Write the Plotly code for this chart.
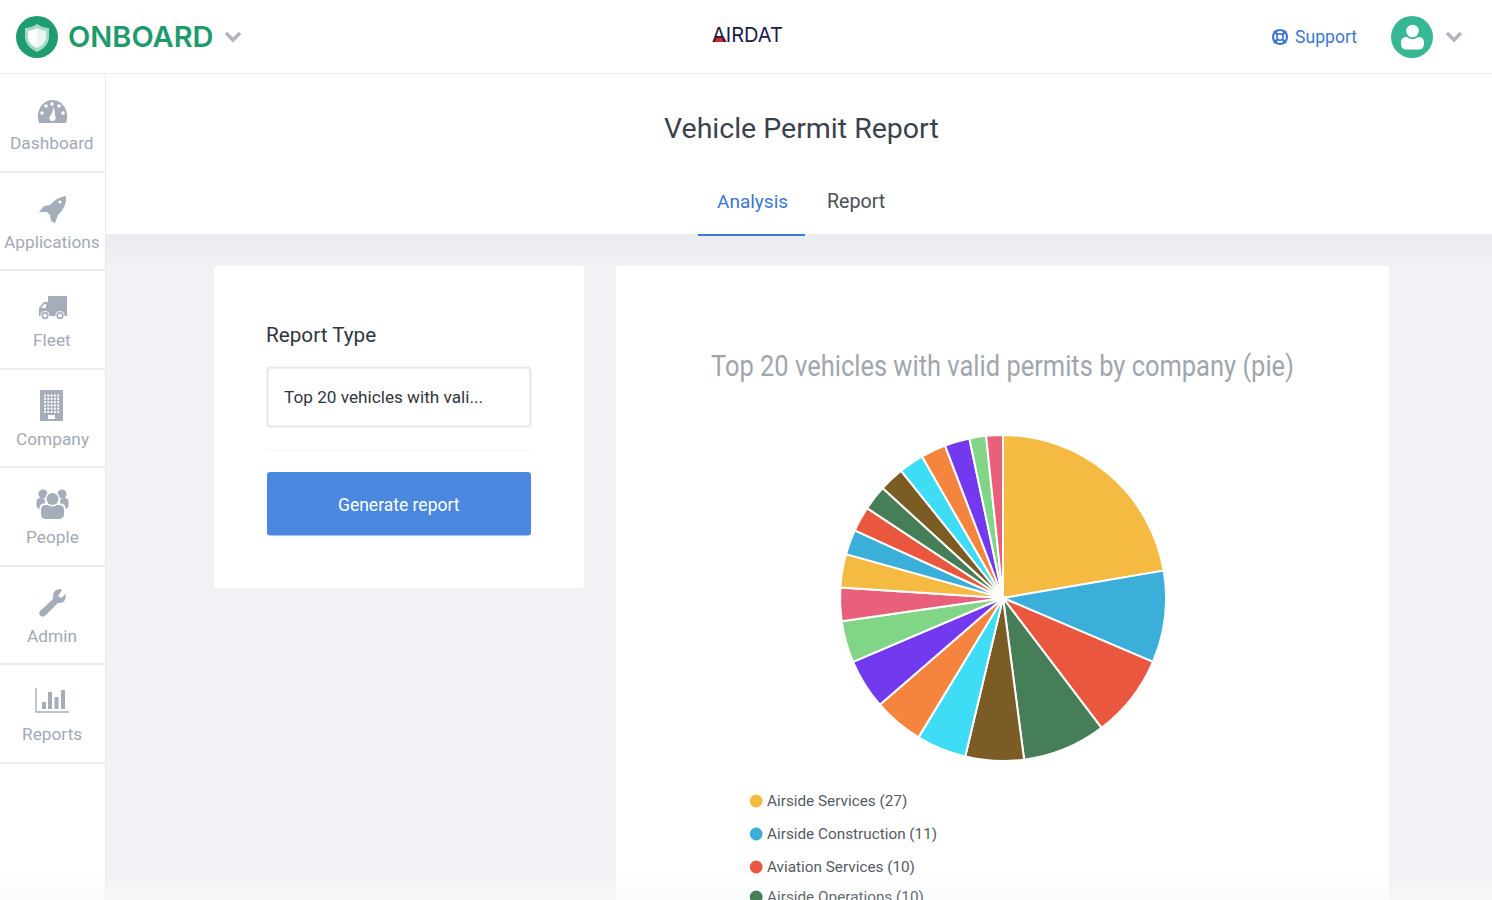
import re

import plotly.graph_objects as go

W = 1492
H = 900

# pie values, read clockwise from 12 o'clock
vehicle_counts = [27, 11, 10, 10, 7, 6, 6, 6, 5, 4, 4, 3, 3, 3, 3, 3, 3, 3, 2, 2]
slice_colors = [
    "#F5BA42", "#3BAEDA", "#E9573F", "#467F57", "#7B5C25",
    "#3FDCF5", "#F5843F", "#7339EE", "#80D587", "#E8607A",
    "#F5BA42", "#3BAEDA", "#E9573F", "#467F57", "#7B5C25",
    "#3FDCF5", "#F5843F", "#7339EE", "#80D587", "#E8607A",
]
# only the first four companies are visible before the page is cut off
company_names = ["Airside Services", "Airside Construction", "Aviation Services", "Airside Operations"]
hidden_names = ["Company %d" % n for n in range(5, 21)]
legend_rows = [801, 834, 867, 897]

nav_labels = ["Dashboard", "Applications", "Fleet", "Company", "People", "Admin", "Reports"]
nav_text_y = [143, 242, 340, 439, 537, 636, 734]
nav_rule_y = [172, 270, 369, 467, 566, 664, 763]

CHART_TITLE = "Top 20 vehicles with valid permits by company (pie)"

FONT = "Roboto"
ICON = "#A6ADBA"
NAV_TEXT = "#A3A9B5"
CHEVRON = "#B1B3BF"

shapes = []
annotations = []


def px(x):
    return x / W


def py(y):
    return 1 - y / H


def to_paper(d):
    # turns a path written in page pixels into paper coordinates
    out = []
    is_x = True
    for tok in re.findall(r"[A-Za-z]|-?[\d.]+", d):
        if tok.isalpha():
            out.append(tok)
            is_x = True
        else:
            out.append("%.5f" % (px(float(tok)) if is_x else py(float(tok))))
            is_x = not is_x
    return " ".join(out)


def rect(x0, y0, x1, y1, fill, line=None, width=0, layer="below", opacity=1):
    shapes.append(dict(
        type="rect", xref="paper", yref="paper",
        x0=px(x0), x1=px(x1), y0=py(y0), y1=py(y1),
        fillcolor=fill, opacity=opacity, layer=layer,
        line=dict(color=line or fill, width=width),
    ))


def circle(cx, cy, r, fill, line=None, width=0, layer="below"):
    shapes.append(dict(
        type="circle", xref="paper", yref="paper",
        x0=px(cx - r), x1=px(cx + r), y0=py(cy + r), y1=py(cy - r),
        fillcolor=fill, layer=layer,
        line=dict(color=line or fill, width=width),
    ))


def path(d, fill=None, line=None, width=0):
    shapes.append(dict(
        type="path", xref="paper", yref="paper", path=to_paper(d),
        fillcolor=fill or "rgba(0,0,0,0)", layer="below",
        line=dict(color=line or "rgba(0,0,0,0)", width=width),
    ))


def round_rect(x0, y0, x1, y1, r, fill, line=None, width=0):
    d = "M %g %g L %g %g Q %g %g %g %g L %g %g Q %g %g %g %g L %g %g Q %g %g %g %g L %g %g Q %g %g %g %g Z" % (
        x0 + r, y0, x1 - r, y0, x1, y0, x1, y0 + r,
        x1, y1 - r, x1, y1, x1 - r, y1,
        x0 + r, y1, x0, y1, x0, y1 - r,
        x0, y0 + r, x0, y0, x0 + r, y0,
    )
    path(d, fill, line, width)


def text(s, x, y, size, color, anchor="center", family=FONT, weight=400, opacity=1):
    annotations.append(dict(
        text=s, x=px(x), y=py(y), xref="paper", yref="paper",
        xanchor=anchor, yanchor="middle", showarrow=False,
        borderpad=0, borderwidth=0, opacity=opacity,
        font=dict(family=family, size=size, color=color, weight=weight),
    ))


def chevron(cx, cy):
    path("M %g %g L %g %g L %g %g" % (cx - 7, cy - 4, cx, cy + 3, cx + 7, cy - 4), line=CHEVRON, width=3.4)


# page background
rect(106, 234, W, H, "#F1F2F6")
for i in range(32):
    rect(106, 234 + i, W, 235 + i, "#E6E8EC", opacity=0.6 * (1 - i / 32))

# header + sidebar rules
rect(0, 73, W, 74, "#E8E9EC")
rect(105, 74, 106, H, "#E7E9ED")
rect(0, 74, 105, H, "#FFFFFF")
for y in nav_rule_y:
    rect(0, y - 1, 105, y + 1, "#EDEEF1")

# cards
round_rect(214, 266, 584, 588, 3, "#FFFFFF")
round_rect(616, 266, 1389, 905, 3, "#FFFFFF")

# tab underline
rect(698, 234, 805, 236, "#3A7BD8")

# form
round_rect(267.5, 367.5, 530.5, 426.5, 3, "#FFFFFF", "#E3E6EA", 2)
rect(267, 449.5, 531, 450.5, "#F4F5F7")
round_rect(267, 472, 531, 535.5, 3, "#4A87DF")

# logo
circle(37, 37, 21, "#1F9C70")
path("M 37 24 Q 31 28 25 28 L 25 38 Q 26 47 37 52 Q 48 47 49 38 L 49 28 Q 43 28 37 24 Z", "#A4DCC3")
path("M 37 28 Q 32 31 28 31 L 28 38 Q 29 45 37 48 L 37 28 Z", "#FFFFFF")
path("M 37 28 Q 42 31 46 31 L 46 38 Q 45 45 37 48 L 37 28 Z", "#EAF7F1")
chevron(233, 37)

# airdat logo, the red band sits under the A of the text
path("M 712.5 42 L 716 36.5 L 723.5 36.5 L 727 42 Z", "#D8262C")

# support icon
circle(1280, 37, 7, "rgba(0,0,0,0)", "#3D78D0", 2.2)
circle(1280, 37, 3.2, "#FFFFFF", "#3D78D0", 1.6)
for d in ["M 1274 31 L 1277.5 34.5", "M 1286 31 L 1282.5 34.5", "M 1274 43 L 1277.5 39.5", "M 1286 43 L 1282.5 39.5"]:
    path(d, line="#3D78D0", width=2.4)

# avatar
circle(1412, 37, 21, "#36B894")
round_rect(1401, 37, 1424, 49.5, 5.5, "#FFFFFF")
circle(1412.5, 31, 8.2, "#36B894")
circle(1412.5, 31, 6.3, "#FFFFFF")
chevron(1454, 37)

# dashboard icon
path("M 39 123 C 35 112 42 100 52.5 100 C 63 100 70 112 66 123 Z", ICON)
for cx, cy in [(42, 113), (46, 106), (52, 104), (59, 106), (63, 113)]:
    circle(cx, cy, 1.8, "#FFFFFF")
path("M 50 118 L 54 107 L 55.5 118 Z", "#FFFFFF")
circle(52.5, 118, 3, "#FFFFFF")

# rocket icon
path("M 66 196 Q 67 207 58 215 L 55 223 L 51 221 L 50 215 L 47 212 L 39 212 L 44 206 L 50 205 Q 57 197 66 196 Z", ICON)
circle(60, 202, 1.6, "#FFFFFF")

# truck icon
rect(48, 296, 67, 316, ICON)
path("M 39 316 L 39 308 L 44 302 L 48 302 L 48 316 Z", ICON)
path("M 41 308 L 44.5 304 L 46 304 L 46 308 Z", "#FFFFFF")
for cx in [45, 60]:
    circle(cx, 315.5, 4.5, "#FFFFFF")
    circle(cx, 315.5, 2.8, "#FFFFFF", ICON, 1.7)

# building icon
rect(40, 390, 63, 421, ICON)
for row in range(6):
    for col in range(5):
        rect(44 + col * 3.3, 394.5 + row * 3.3, 46 + col * 3.3, 396.5 + row * 3.3, "#FFFFFF")
rect(48, 415, 55, 419, "#FFFFFF")

# people icon
circle(43, 494, 4.6, ICON)
circle(62, 494, 4.6, ICON)
round_rect(36.5, 498, 45, 509, 4, ICON)
round_rect(60, 498, 68.5, 509, 4, ICON)
round_rect(39.5, 503.5, 65.5, 520.5, 5, "#FFFFFF")
round_rect(41, 505, 64, 519, 5, ICON)
circle(52.5, 499, 7.5, "#FFFFFF")
circle(52.5, 499, 6, ICON)

# wrench icon
path("M 59 589 Q 52 590 53 599 L 40 611 Q 38 614 41 616 Q 43 618 46 615 L 58 603 Q 66 604 66 594 L 61 598 L 58 596 L 62 590 Q 61 589 59 589 Z", ICON)

# bar chart icon
path("M 36 688 L 36 712 L 69 712", line=ICON, width=1.4)
for x0, top in [(42, 702), (48, 692), (54.5, 697), (61, 690)]:
    rect(x0, top, x0 + 4, 709, ICON)

# fade along the bottom edge of the page, above the pie
for i in range(30):
    rect(0, 870 + i, W, 871 + i, "#F8F9FA", layer="above", opacity=(i + 1) / 30 * 0.7)

# legend dots sit above the fade
for y, c in zip(legend_rows, slice_colors):
    circle(756.2, y, 6.4, c, layer="above")

# texts
text("ONBOARD", 68, 37, 29, "#1F9A6C", "left", family="Inter", weight=600)
text("AIRDAT", 712, 34.5, 20, "#1B1B4B", "left", family="Inter", weight=400)
text("Support", 1295, 37.5, 17.6, "#3D78D0", "left")
text("Vehicle Permit Report", 801, 129, 28.5, "#3A424C")
text("Analysis", 752, 201, 19, "#3A78D3")
text("Report", 856, 201, 19.6, "#4A5058")
text("Report Type", 266, 335, 20.7, "#30363E", "left")
text("Top 20 vehicles with vali...", 284, 397, 17.2, "#30363E", "left")
text("Generate report", 398.5, 504.5, 17.5, "#FFFFFF")
text(CHART_TITLE, 1002.5, 365, 30, "#A0A6AE")
for label, y in zip(nav_labels, nav_text_y):
    text(label, 52, y, 17.3, NAV_TEXT)
for name, count, y in zip(company_names, vehicle_counts, legend_rows):
    text("%s (%d)" % (name, count), 767, y, 15.3, "#565A63", "left", opacity=0.9 if y > 880 else 1)

fig = go.Figure(
    data=[
        go.Pie(
            labels=company_names + hidden_names,
            values=vehicle_counts,
            sort=False,
            direction="clockwise",
            rotation=0,
            textinfo="none",
            showlegend=False,
            marker=dict(colors=slice_colors, line=dict(color="#FFFFFF", width=2)),
            domain=dict(x=[px(840), px(1166)], y=[py(761), py(435)]),
        )
    ],
    layout=go.Layout(
        width=W,
        height=H,
        margin=dict(l=0, r=0, t=0, b=0),
        paper_bgcolor="#FFFFFF",
        shapes=shapes,
        annotations=annotations,
    ),
)

# the chart title is squeezed horizontally in the original
squeeze_title = """
document.body.style.margin='0';
document.body.style.overflow='hidden';
document.querySelectorAll('.annotation-text').forEach(function (t) {
  if (t.textContent.indexOf('%s') === 0) {
    var box = t.getBBox();
    var mid = box.x + box.width / 2;
    t.setAttribute('textLength', 583);
    t.setAttribute('lengthAdjust', 'spacingAndGlyphs');
    t.setAttribute('x', mid - 583 / 2);
    t.style.textAnchor = 'start';
  }
});
""" % CHART_TITLE

fig.write_html("out.html", config={"displayModeBar": False}, post_script=squeeze_title)
